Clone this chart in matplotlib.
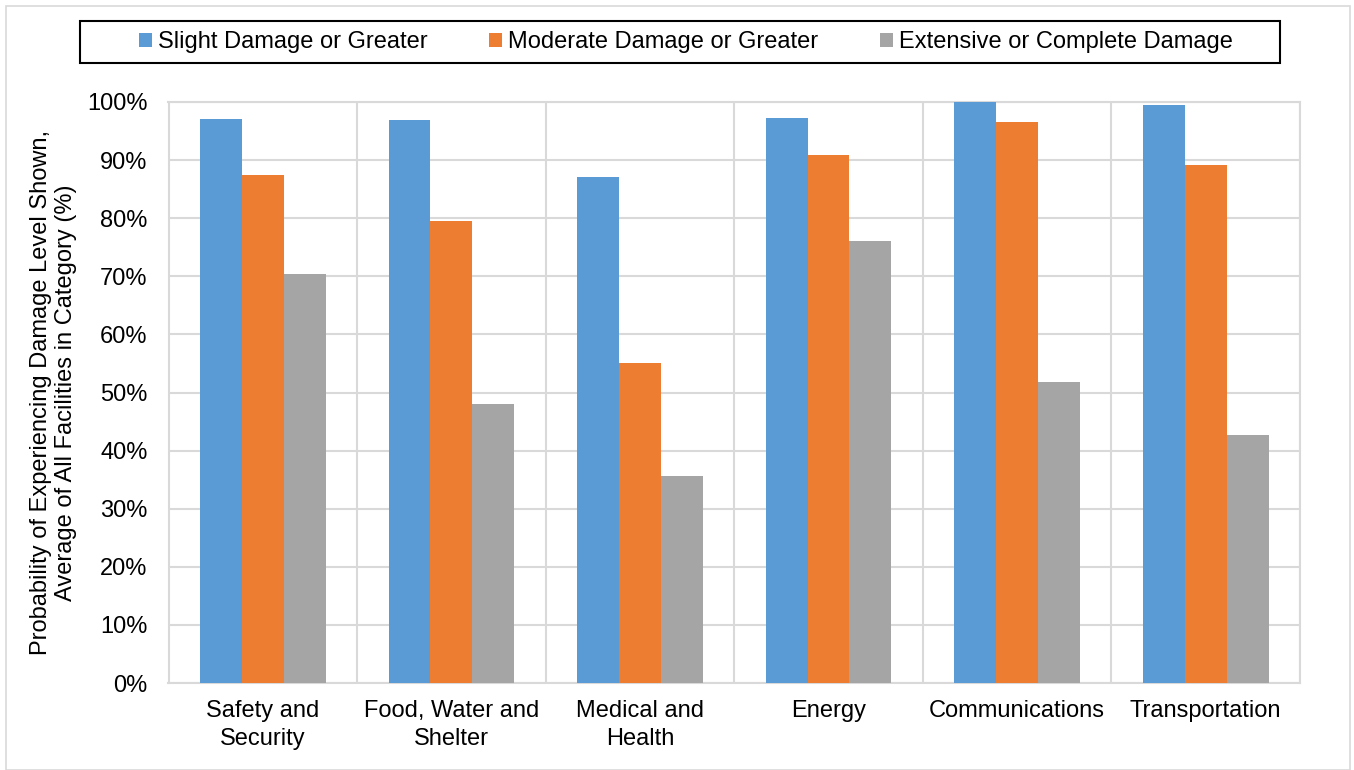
import numpy as np
import matplotlib.pyplot as plt
from matplotlib.patches import Rectangle
from matplotlib.ticker import PercentFormatter

plt.rcParams['font.family'] = ['Liberation Sans', 'DejaVu Sans']

categories = ['Safety and\nSecurity', 'Food, Water and\nShelter', 'Medical and\nHealth',
              'Energy', 'Communications', 'Transportation']
series_names = ['Slight Damage or Greater', 'Moderate Damage or Greater',
                'Extensive or Complete Damage']
slight = [97.1, 96.9, 87.1, 97.2, 100.0, 99.5]
moderate = [87.4, 79.5, 55.1, 90.9, 96.6, 89.2]
extensive = [70.4, 48.0, 35.6, 76.1, 51.8, 42.7]
colors = ['#5B9BD5', '#ED7D31', '#A5A5A5']

W, H = 1354, 770
fig = plt.figure(figsize=(W / 100, H / 100), dpi=100)
ax = fig.add_axes([168.5 / W, (H - 683) / H, (1300 - 168.5) / W, 581 / H])

x = np.arange(len(categories))
width = 0.222
for i, (vals, name) in enumerate(zip([slight, moderate, extensive], series_names)):
    ax.bar(x + (i - 1) * width, vals, width, color=colors[i], label=name, zorder=3)

ax.set_xlim(-0.5, len(categories) - 0.5)
ax.set_ylim(0, 100)
ax.set_yticks(np.arange(0, 101, 10))
ax.yaxis.set_major_formatter(PercentFormatter(decimals=0))
ax.set_xticks(x)
ax.set_xticklabels(categories, linespacing=1.35)
ax.set_xticks(np.arange(-0.5, len(categories), 1), minor=True)
ax.grid(True, axis='y', color='#D9D9D9', linewidth=1.5, zorder=0)
ax.grid(True, axis='x', which='minor', color='#D9D9D9', linewidth=1.5, zorder=0)
ax.tick_params(axis='y', length=0, labelsize=17, pad=15)
ax.tick_params(axis='x', which='both', length=0, labelsize=17, pad=12)
for s in ax.spines.values():
    s.set_color('#D9D9D9')
    s.set_linewidth(1.5)

ax.set_ylabel('Probability of Experiencing Damage Level Shown,\nAverage of All Facilities in Category (%)',
              fontsize=17, labelpad=7)

leg = fig.legend(loc='center', bbox_to_anchor=(686 / W, 1 - 42 / H), ncol=3,
                 fontsize=17, frameon=False,
                 handlelength=0.55, handleheight=0.55, handletextpad=0.25,
                 columnspacing=2.6)

# legend box and outer light border
fig.patches.append(Rectangle((80 / W, 1 - 63 / H), 1200 / W, 42 / H, transform=fig.transFigure,
                             fill=False, edgecolor='black', linewidth=1.5))
fig.patches.append(Rectangle((6 / W, 0), 1344 / W, 764 / H, transform=fig.transFigure,
                             fill=False, edgecolor='#D9D9D9', linewidth=1.2))

fig.savefig('out.png', dpi=100)
